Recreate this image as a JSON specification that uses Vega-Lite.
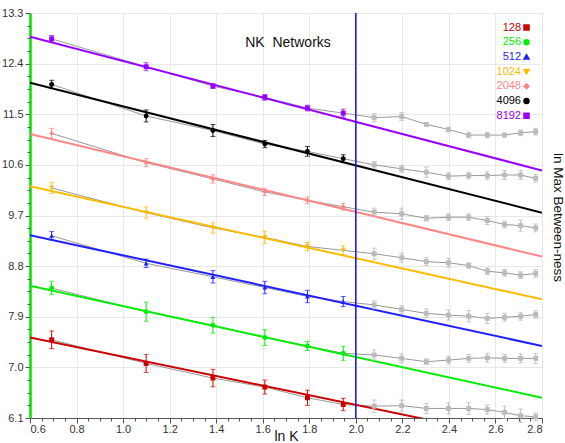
{
  "$schema": "https://vega.github.io/schema/vega-lite/v6.json",
  "width": 512,
  "height": 405,
  "autosize": {"type": "none"},
  "padding": {"left": 30, "top": 13, "right": 23, "bottom": 25},
  "background": "white",
  "config": {
    "font": "Liberation Sans",
    "view": {"stroke": "#555555", "strokeWidth": 1},
    "axis": {"labelFont": "Liberation Sans", "titleFont": "Liberation Sans", "labelColor": "#333333", "labelFontSize": 11, "gridColor": "#e8e8e8", "tickColor": "#555555", "domainColor": "#555555"}
  },
  "title": {"text": "NK\u00a0 Networks", "anchor": "middle", "dx": 2, "dy": 47, "fontSize": 14, "fontWeight": "normal", "color": "#111111", "font": "Liberation Sans"},
  "datasets": {
    "pts": [
      {"s": "128", "grp": "128", "x": 0.693, "v": 7.49, "e": 0.157},
      {"s": "128", "grp": "128", "x": 1.099, "v": 7.07, "e": 0.16},
      {"s": "128", "grp": "128", "x": 1.386, "v": 6.81, "e": 0.155},
      {"s": "128", "grp": "128", "x": 1.609, "v": 6.65, "e": 0.125},
      {"s": "128", "grp": "128", "x": 1.792, "v": 6.46, "e": 0.135},
      {"s": "128", "grp": "128", "x": 1.946, "v": 6.34, "e": 0.11},
      {"s": "128", "grp": "extra", "x": 2.079, "v": 6.31, "e": 0.11},
      {"s": "128", "grp": "extra", "x": 2.197, "v": 6.32, "e": 0.1},
      {"s": "128", "grp": "extra", "x": 2.303, "v": 6.27, "e": 0.09},
      {"s": "128", "grp": "extra", "x": 2.398, "v": 6.27, "e": 0.1},
      {"s": "128", "grp": "extra", "x": 2.485, "v": 6.27, "e": 0.11},
      {"s": "128", "grp": "extra", "x": 2.565, "v": 6.25, "e": 0.08},
      {"s": "128", "grp": "extra", "x": 2.639, "v": 6.2, "e": 0.11},
      {"s": "128", "grp": "extra", "x": 2.708, "v": 6.14, "e": 0.12},
      {"s": "128", "grp": "extra", "x": 2.773, "v": 6.12, "e": 0.07},
      {"s": "256", "grp": "256", "x": 0.693, "v": 8.41, "e": 0.12},
      {"s": "256", "grp": "256", "x": 1.099, "v": 7.99, "e": 0.17},
      {"s": "256", "grp": "256", "x": 1.386, "v": 7.75, "e": 0.14},
      {"s": "256", "grp": "256", "x": 1.609, "v": 7.53, "e": 0.14},
      {"s": "256", "grp": "256", "x": 1.792, "v": 7.38, "e": 0.08},
      {"s": "256", "grp": "256", "x": 1.946, "v": 7.25, "e": 0.125},
      {"s": "256", "grp": "extra", "x": 2.079, "v": 7.22, "e": 0.09},
      {"s": "256", "grp": "extra", "x": 2.197, "v": 7.16, "e": 0.08},
      {"s": "256", "grp": "extra", "x": 2.303, "v": 7.1, "e": 0.05},
      {"s": "256", "grp": "extra", "x": 2.398, "v": 7.13, "e": 0.07},
      {"s": "256", "grp": "extra", "x": 2.485, "v": 7.16, "e": 0.07},
      {"s": "256", "grp": "extra", "x": 2.565, "v": 7.17, "e": 0.08},
      {"s": "256", "grp": "extra", "x": 2.639, "v": 7.16, "e": 0.07},
      {"s": "256", "grp": "extra", "x": 2.708, "v": 7.16, "e": 0.08},
      {"s": "256", "grp": "extra", "x": 2.773, "v": 7.16, "e": 0.09},
      {"s": "512", "grp": "512", "x": 0.693, "v": 9.34, "e": 0.074},
      {"s": "512", "grp": "512", "x": 1.099, "v": 8.85, "e": 0.075},
      {"s": "512", "grp": "512", "x": 1.386, "v": 8.61, "e": 0.11},
      {"s": "512", "grp": "512", "x": 1.609, "v": 8.42, "e": 0.11},
      {"s": "512", "grp": "512", "x": 1.792, "v": 8.26, "e": 0.11},
      {"s": "512", "grp": "512", "x": 1.946, "v": 8.17, "e": 0.09},
      {"s": "512", "grp": "extra", "x": 2.079, "v": 8.11, "e": 0.07},
      {"s": "512", "grp": "extra", "x": 2.197, "v": 8.03, "e": 0.07},
      {"s": "512", "grp": "extra", "x": 2.303, "v": 7.96, "e": 0.08},
      {"s": "512", "grp": "extra", "x": 2.398, "v": 7.93, "e": 0.09},
      {"s": "512", "grp": "extra", "x": 2.485, "v": 7.91, "e": 0.1},
      {"s": "512", "grp": "extra", "x": 2.565, "v": 7.87, "e": 0.09},
      {"s": "512", "grp": "extra", "x": 2.639, "v": 7.89, "e": 0.07},
      {"s": "512", "grp": "extra", "x": 2.708, "v": 7.91, "e": 0.07},
      {"s": "512", "grp": "extra", "x": 2.773, "v": 7.94, "e": 0.07},
      {"s": "1024", "grp": "1024", "x": 0.693, "v": 10.19, "e": 0.1},
      {"s": "1024", "grp": "1024", "x": 1.099, "v": 9.75, "e": 0.1},
      {"s": "1024", "grp": "1024", "x": 1.386, "v": 9.48, "e": 0.09},
      {"s": "1024", "grp": "1024", "x": 1.609, "v": 9.31, "e": 0.11},
      {"s": "1024", "grp": "1024", "x": 1.792, "v": 9.15, "e": 0.07},
      {"s": "1024", "grp": "1024", "x": 1.946, "v": 9.08, "e": 0.08},
      {"s": "1024", "grp": "extra", "x": 2.079, "v": 9.02, "e": 0.1},
      {"s": "1024", "grp": "extra", "x": 2.197, "v": 8.95, "e": 0.08},
      {"s": "1024", "grp": "extra", "x": 2.303, "v": 8.88, "e": 0.07},
      {"s": "1024", "grp": "extra", "x": 2.398, "v": 8.86, "e": 0.08},
      {"s": "1024", "grp": "extra", "x": 2.485, "v": 8.81, "e": 0.05},
      {"s": "1024", "grp": "extra", "x": 2.565, "v": 8.71, "e": 0.06},
      {"s": "1024", "grp": "extra", "x": 2.639, "v": 8.68, "e": 0.06},
      {"s": "1024", "grp": "extra", "x": 2.708, "v": 8.64, "e": 0.06},
      {"s": "1024", "grp": "extra", "x": 2.773, "v": 8.67, "e": 0.07},
      {"s": "2048", "grp": "2048", "x": 0.693, "v": 11.16, "e": 0.09},
      {"s": "2048", "grp": "2048", "x": 1.099, "v": 10.64, "e": 0.07},
      {"s": "2048", "grp": "2048", "x": 1.386, "v": 10.35, "e": 0.074},
      {"s": "2048", "grp": "2048", "x": 1.609, "v": 10.12, "e": 0.065},
      {"s": "2048", "grp": "2048", "x": 1.792, "v": 9.97, "e": 0.06},
      {"s": "2048", "grp": "2048", "x": 1.946, "v": 9.855, "e": 0.06},
      {"s": "2048", "grp": "extra", "x": 2.079, "v": 9.76, "e": 0.07},
      {"s": "2048", "grp": "extra", "x": 2.197, "v": 9.73, "e": 0.1},
      {"s": "2048", "grp": "extra", "x": 2.303, "v": 9.65, "e": 0.05},
      {"s": "2048", "grp": "extra", "x": 2.398, "v": 9.67, "e": 0.06},
      {"s": "2048", "grp": "extra", "x": 2.485, "v": 9.67, "e": 0.06},
      {"s": "2048", "grp": "extra", "x": 2.565, "v": 9.61, "e": 0.07},
      {"s": "2048", "grp": "extra", "x": 2.639, "v": 9.54, "e": 0.06},
      {"s": "2048", "grp": "extra", "x": 2.708, "v": 9.52, "e": 0.1},
      {"s": "2048", "grp": "extra", "x": 2.773, "v": 9.48, "e": 0.07},
      {"s": "4096", "grp": "4096", "x": 0.693, "v": 12.03, "e": 0.074},
      {"s": "4096", "grp": "4096", "x": 1.099, "v": 11.47, "e": 0.107},
      {"s": "4096", "grp": "4096", "x": 1.386, "v": 11.21, "e": 0.107},
      {"s": "4096", "grp": "4096", "x": 1.609, "v": 10.97, "e": 0.065},
      {"s": "4096", "grp": "4096", "x": 1.792, "v": 10.84, "e": 0.086},
      {"s": "4096", "grp": "4096", "x": 1.946, "v": 10.71, "e": 0.07},
      {"s": "4096", "grp": "extra", "x": 2.079, "v": 10.6, "e": 0.06},
      {"s": "4096", "grp": "extra", "x": 2.197, "v": 10.53, "e": 0.06},
      {"s": "4096", "grp": "extra", "x": 2.303, "v": 10.47, "e": 0.09},
      {"s": "4096", "grp": "extra", "x": 2.398, "v": 10.4, "e": 0.06},
      {"s": "4096", "grp": "extra", "x": 2.485, "v": 10.41, "e": 0.06},
      {"s": "4096", "grp": "extra", "x": 2.565, "v": 10.41, "e": 0.07},
      {"s": "4096", "grp": "extra", "x": 2.639, "v": 10.42, "e": 0.08},
      {"s": "4096", "grp": "extra", "x": 2.708, "v": 10.42, "e": 0.08},
      {"s": "4096", "grp": "extra", "x": 2.773, "v": 10.36, "e": 0.07},
      {"s": "8192", "grp": "8192", "x": 0.693, "v": 12.84, "e": 0.06},
      {"s": "8192", "grp": "8192", "x": 1.099, "v": 12.345, "e": 0.07},
      {"s": "8192", "grp": "8192", "x": 1.386, "v": 12.0, "e": 0.04},
      {"s": "8192", "grp": "8192", "x": 1.609, "v": 11.8, "e": 0.05},
      {"s": "8192", "grp": "8192", "x": 1.792, "v": 11.61, "e": 0.05},
      {"s": "8192", "grp": "8192", "x": 1.946, "v": 11.52, "e": 0.07},
      {"s": "8192", "grp": "extra", "x": 2.079, "v": 11.44, "e": 0.075},
      {"s": "8192", "grp": "extra", "x": 2.197, "v": 11.46, "e": 0.07},
      {"s": "8192", "grp": "extra", "x": 2.303, "v": 11.32, "e": 0.03},
      {"s": "8192", "grp": "extra", "x": 2.398, "v": 11.23, "e": 0.04},
      {"s": "8192", "grp": "extra", "x": 2.485, "v": 11.13, "e": 0.05},
      {"s": "8192", "grp": "extra", "x": 2.565, "v": 11.13, "e": 0.05},
      {"s": "8192", "grp": "extra", "x": 2.639, "v": 11.13, "e": 0.03},
      {"s": "8192", "grp": "extra", "x": 2.708, "v": 11.17, "e": 0.05},
      {"s": "8192", "grp": "extra", "x": 2.773, "v": 11.19, "e": 0.06}
    ],
    "fits": [
      {"grp": "128", "x": 0.6, "v": 7.53}, {"grp": "128", "x": 2.8, "v": 5.65},
      {"grp": "256", "x": 0.6, "v": 8.45}, {"grp": "256", "x": 2.8, "v": 6.46},
      {"grp": "512", "x": 0.6, "v": 9.35}, {"grp": "512", "x": 2.8, "v": 7.38},
      {"grp": "1024", "x": 0.6, "v": 10.22}, {"grp": "1024", "x": 2.8, "v": 8.21},
      {"grp": "2048", "x": 0.6, "v": 11.15}, {"grp": "2048", "x": 2.8, "v": 8.97},
      {"grp": "4096", "x": 0.6, "v": 12.06}, {"grp": "4096", "x": 2.8, "v": 9.75},
      {"grp": "8192", "x": 0.6, "v": 12.88}, {"grp": "8192", "x": 2.8, "v": 10.5}
    ]
  },
  "resolve": {"axis": {"x": "independent", "y": "independent"}},
  "layer": [
    {
      "data": {"name": "pts"},
      "mark": {"type": "line", "color": "#999999", "strokeWidth": 1},
      "encoding": {
        "x": {"field": "x", "type": "quantitative", "scale": {"domain": [0.6, 2.8], "nice": false, "zero": false},
          "axis": {"orient": "bottom", "values": [0.6, 0.8, 1.0, 1.2, 1.4, 1.6, 1.8, 2.0, 2.2, 2.4, 2.6, 2.8], "format": ".1f", "grid": true, "tickSize": 5, "labelPadding": 0, "domainColor": "#555555", "title": "ln K", "titleFontSize": 14, "titleFontWeight": "normal", "titleColor": "#111111", "titlePadding": -5}},
        "y": {"field": "v", "type": "quantitative", "scale": {"domain": [6.1, 13.3], "nice": false, "zero": false},
          "axis": {"orient": "left", "values": [6.1, 7.0, 7.9, 8.8, 9.7, 10.6, 11.5, 12.4, 13.3], "format": ".1f", "grid": true, "tickSize": 5, "labelPadding": 2, "domainColor": "#00e000", "domainWidth": 2.5, "title": "ln Max Between-ness", "titleFontSize": 13.5, "titleFontWeight": "normal", "titleColor": "#111111", "titleAngle": 90, "titleX": 527, "titleY": 204, "titleAlign": "center", "titleBaseline": "middle"}},
        "detail": {"field": "s"}
      }
    },
    {
      "data": {"name": "fits"},
      "mark": {"type": "line", "strokeWidth": 2, "clip": true},
      "encoding": {
        "x": {"field": "x", "type": "quantitative",
          "axis": {"orient": "bottom", "values": [0.65, 0.7, 0.75, 0.85, 0.9, 0.95, 1.05, 1.1, 1.15, 1.25, 1.3, 1.35, 1.45, 1.5, 1.55, 1.65, 1.7, 1.75, 1.85, 1.9, 1.95, 2.05, 2.1, 2.15, 2.25, 2.3, 2.35, 2.45, 2.5, 2.55, 2.65, 2.7, 2.75], "labels": false, "domain": false, "grid": false, "tickSize": 3, "title": null}},
        "y": {"field": "v", "type": "quantitative",
          "axis": {"orient": "left", "values": [6.325, 6.55, 6.775, 7.225, 7.45, 7.675, 8.125, 8.35, 8.575, 9.025, 9.25, 9.475, 9.925, 10.15, 10.375, 10.825, 11.05, 11.275, 11.725, 11.95, 12.175, 12.625, 12.85, 13.075], "labels": false, "domain": false, "grid": false, "tickSize": 3, "title": null}},
        "color": {"field": "grp", "type": "nominal",
          "scale": {"domain": ["128", "256", "512", "1024", "2048", "4096", "8192", "extra"], "range": ["#cc0000", "#00ee00", "#1f1fff", "#ffbb00", "#ff8585", "#000000", "#9900ff", "#bbbbbb"]},
          "legend": {"orient": "none", "legendX": 491, "legendY": 9, "title": null, "values": ["128", "256", "512", "1024", "2048", "4096", "8192"], "labelAlign": "right", "labelOffset": -11, "labelFontSize": 11, "labelFont": "Liberation Sans", "symbolSize": 25, "rowPadding": 2.7, "padding": 0,
            "encode": {"labels": {"update": {"fill": {"scale": "color", "field": "value"}}}}}},
        "detail": {"field": "grp"}
      }
    },
    {
      "data": {"values": [{}]},
      "mark": {"type": "rule", "color": "#1010ff", "strokeWidth": 1.5},
      "encoding": {"x": {"datum": 2.0, "type": "quantitative", "axis": null}}
    },
    {
      "data": {"name": "pts"},
      "mark": {"type": "errorbar", "ticks": {"size": 5}, "thickness": 1},
      "encoding": {
        "x": {"field": "x", "type": "quantitative", "axis": null},
        "y": {"field": "v", "type": "quantitative", "axis": null},
        "yError": {"field": "e"},
        "color": {"field": "grp", "type": "nominal"}
      }
    },
    {
      "data": {"name": "pts"},
      "mark": {"type": "point", "filled": true, "size": 24, "opacity": 1},
      "encoding": {
        "x": {"field": "x", "type": "quantitative", "axis": null},
        "y": {"field": "v", "type": "quantitative", "axis": null},
        "color": {"field": "grp", "type": "nominal"},
        "shape": {"field": "grp", "type": "nominal", "scale": {"domain": ["128", "256", "512", "1024", "2048", "4096", "8192", "extra"], "range": ["square", "circle", "triangle-up", "triangle-down", "diamond", "circle", "square", "square"]}}
      }
    }
  ]
}
